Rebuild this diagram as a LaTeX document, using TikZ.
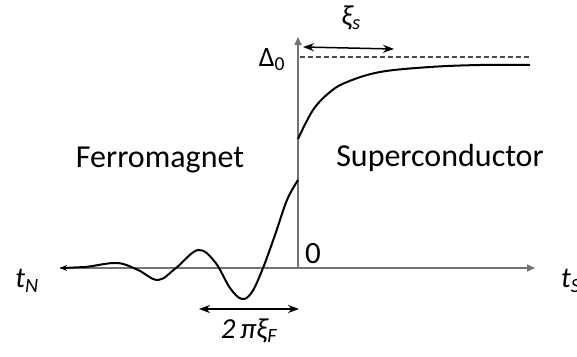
\documentclass[tikz,border=0pt]{standalone}
\usepackage{fontspec}
\setmainfont{Carlito}
\usetikzlibrary{arrows.meta}
\begin{document}
\begin{tikzpicture}[x=1pt,y=-1pt,
  axis/.style={draw=black!55,line width=1.6pt,-{Triangle[length=8pt,width=7pt]}},
  curve/.style={draw=black,line width=2pt},
  dim/.style={draw=black,line width=1.5pt,{Stealth[length=11pt,width=8pt]}-{Stealth[length=11pt,width=8pt]}},
  lbl/.style={inner sep=0pt,font=\fontsize{32}{36}\selectfont},
  sym/.style={inner sep=0pt,font=\fontsize{29}{32}\selectfont\itshape}]
\useasboundingbox (0,0) rectangle (577,356);
\fill[white] (0,0) rectangle (577,356);
% coordinates
\coordinate (O) at (298,268);
\coordinate (Ytop) at (298,37);
\coordinate (Xl) at (60,268);
\coordinate (Xr) at (535,268);
% axes
\draw[axis] (O) -- (Ytop);
\draw[draw=black!55,line width=1.6pt] (Xl) -- (O);
\draw[axis] (O) -- (Xr);
% dashed Delta0
\coordinate (D0) at (300,57);
\coordinate (D1) at (530,57);
\draw[black!70,line width=1.2pt,dash pattern=on 5pt off 3pt] (D0) -- (D1);
% ferromagnet curve
\draw[curve,{Stealth[length=7pt,width=6pt]}-] plot[smooth,tension=0.6] coordinates
 {(60,268) (85,267) (117,263) (138,270) (158,280) (176,268) (198,250) (215,262) (230,288) (242,299) (252,292) (263,268) (275,235) (287,200) (298,180)};
% superconductor curve
\draw[curve] plot[smooth,tension=0.6] coordinates
 {(298,139) (313,110) (330,92) (347,82) (380,72) (430,67) (480,65) (530,65)};
% dimension arrows
\coordinate (xs1) at (303,47);
\coordinate (xs2) at (394,49);
\draw[dim] (xs1) -- (xs2);
\coordinate (xf1) at (199,309);
\coordinate (xf2) at (299,309);
\draw[dim] (xf1) -- (xf2);
% labels
\node[lbl] (ferro) at (160,160) {Ferromagnet};
\node[lbl] (super) at (440,158) {Superconductor};
\node[sym] (tN) at (27,281) {t\textsubscript{N}};
\node[sym,anchor=west] (tS) at (561,281) {t\textsubscript{S}};
\node[lbl,font=\fontsize{31}{34}\selectfont] (zero) at (313,254) {0};
\node[lbl,font=\fontsize{28}{30}\selectfont] (delta) at (272,60) {Δ\textsubscript{0}};
\node[sym] (xis) at (351,18) {ξ\textsubscript{s}};
\node[sym] (xif) at (249,331) {2\,πξ\textsubscript{F}};
\end{tikzpicture}
\end{document}
